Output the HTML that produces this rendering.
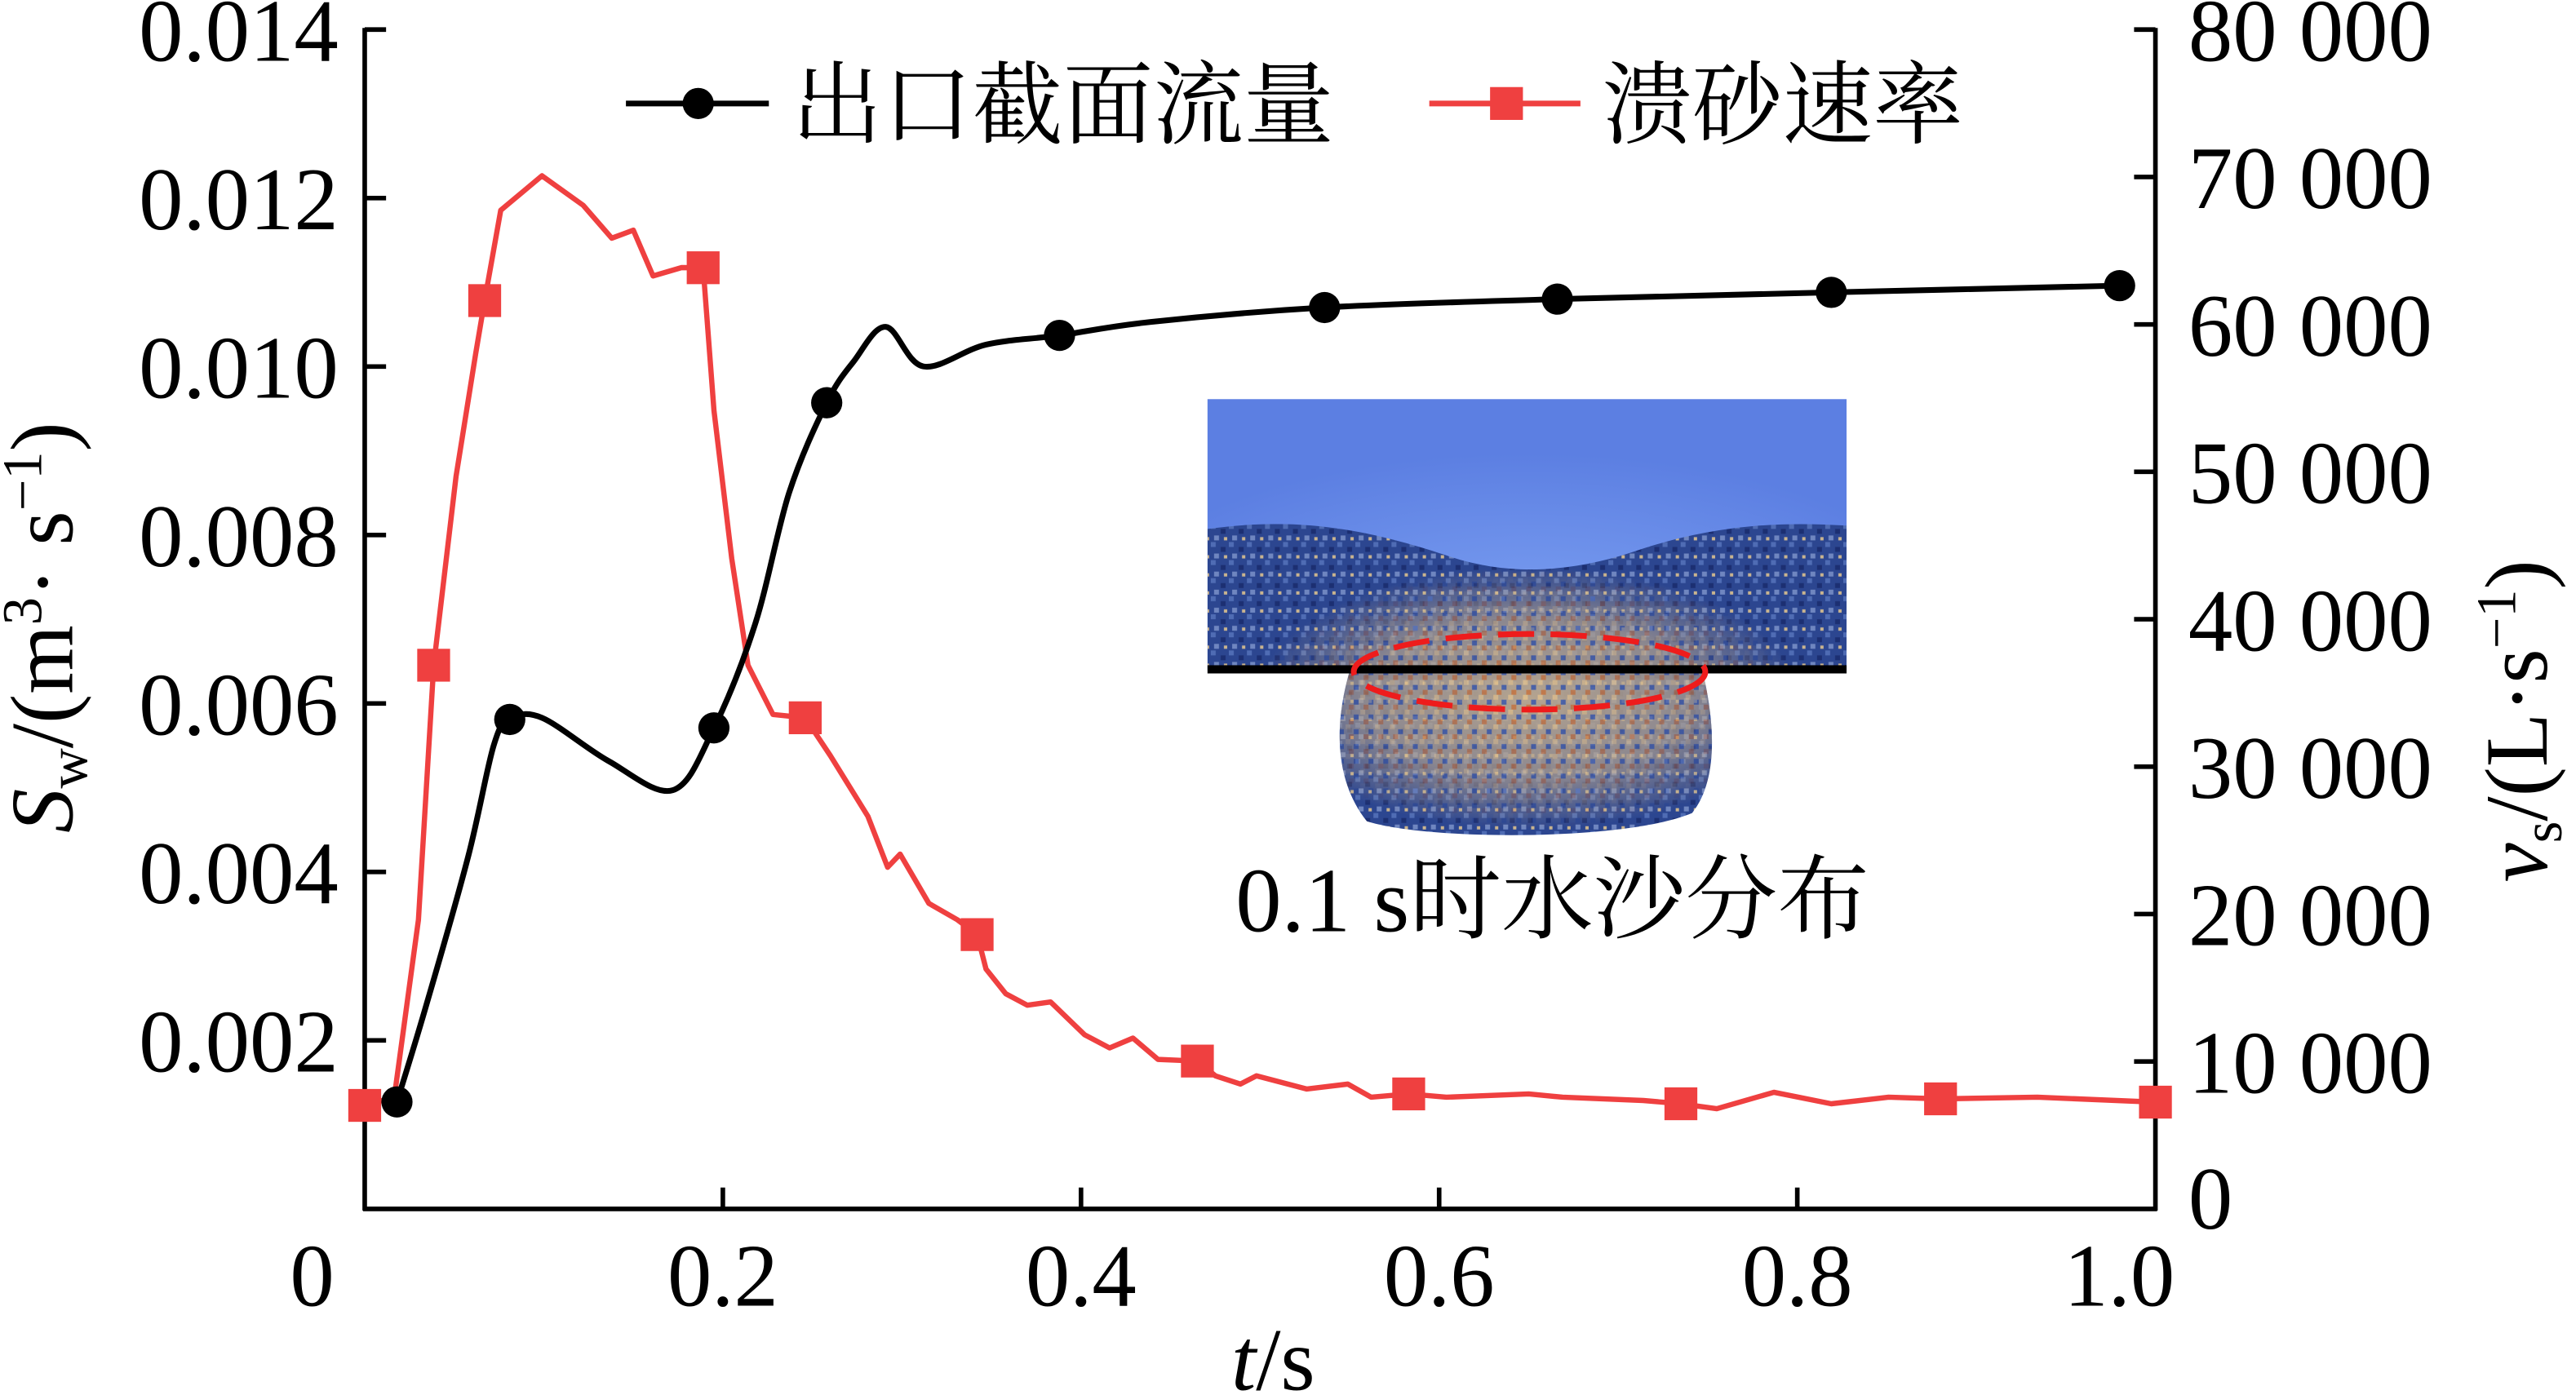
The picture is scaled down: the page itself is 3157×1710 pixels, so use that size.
<!DOCTYPE html>
<html><head><meta charset="utf-8"><style>
html,body{margin:0;padding:0;background:#fff;}
svg{display:block;}
text{font-family:"Liberation Serif","Noto Serif CJK SC","Noto Sans CJK SC",serif;fill:#000;}
</style></head><body>
<svg id="chart" width="3157" height="1710" viewBox="0 0 1568 849.3" xmlns="http://www.w3.org/2000/svg">
<defs>
<radialGradient id="water" cx="0.5" cy="0.9" r="0.7">
<stop offset="0" stop-color="#7fa3f3"/><stop offset="1" stop-color="#5c7fe2"/>
</radialGradient>
<pattern id="sand" width="11" height="11" patternUnits="userSpaceOnUse">
<rect width="11" height="11" fill="#2c4690"/>
<rect x="0" y="0" width="3" height="3" fill="#4f6cb4"/>
<rect x="6" y="3" width="3" height="3" fill="#1c2f72"/>
<rect x="2" y="7" width="3" height="3" fill="#6f86c0"/>
<rect x="8" y="8" width="2" height="2" fill="#c9b48f"/>
</pattern>
<pattern id="sandhot" width="9" height="9" patternUnits="userSpaceOnUse">
<rect width="9" height="9" fill="#b5a48f"/>
<rect x="0" y="0" width="3" height="3" fill="#dcbd8d"/>
<rect x="5" y="3" width="3" height="3" fill="#4c63a8"/>
<rect x="2" y="6" width="3" height="3" fill="#c77c4a"/>
</pattern>
<radialGradient id="hotfade" cx="0.5" cy="0.5" r="0.5">
<stop offset="0" stop-color="#fff" stop-opacity="1"/><stop offset="0.6" stop-color="#fff" stop-opacity="0.7"/><stop offset="1" stop-color="#fff" stop-opacity="0"/>
</radialGradient>
<mask id="hotmask"><ellipse cx="930" cy="425" rx="165" ry="80" fill="url(#hotfade)"/></mask>
<clipPath id="sandclip">
<path d="M735,322 C780,316 820,318 880,338 C920,352 960,348 1000,334 C1050,318 1090,318 1124,320 L1124,407 L1036,407 C1044,440 1046,475 1030,495 C990,512 870,512 832,500 C812,475 812,440 822,407 L735,407 Z"/>
</clipPath>
</defs>

<g id="inset">
<rect x="735" y="243" width="389" height="165" fill="url(#water)"/>
<g clip-path="url(#sandclip)">
<rect x="735" y="300" width="389" height="220" fill="url(#sand)"/>
<g mask="url(#hotmask)"><rect x="735" y="300" width="389" height="220" fill="url(#sandhot)"/></g>
</g>
<rect x="735" y="405" width="389" height="5" fill="#000"/>
<ellipse cx="931" cy="409" rx="107" ry="23" fill="none" stroke="#ee1c1c" stroke-width="3.5" stroke-dasharray="22 10"/>
<text x="945" y="567" font-size="56" text-anchor="middle">0.1 s时水沙分布</text>
</g>

<g id="axes" stroke="#000" stroke-width="2.8" fill="none">
<line x1="222" y1="17" x2="222" y2="737"/>
<line x1="1312" y1="17" x2="1312" y2="737"/>
<line x1="221" y1="736" x2="1313" y2="736"/>
</g>
<g id="ticks"></g>
<g id="series"></g>

<g id="legend">
<g>
<line x1="381" y1="63" x2="468" y2="63" stroke="#000" stroke-width="3.5"/>
<circle cx="425" cy="63" r="9.5" fill="#000"/>
<text x="482" y="83" font-size="55">出口截面流量</text>
</g>
<g>
<line x1="870" y1="63" x2="962" y2="63" stroke="#ef4040" stroke-width="3.5"/>
<rect x="907" y="53" width="20" height="20" fill="#ef4040"/>
<text x="975" y="83" font-size="55">溃砂速率</text>
</g>
</g>

<text x="775" y="846" font-size="54" text-anchor="middle"><tspan font-style="italic">t</tspan>/s</text>
<text transform="translate(44,382) rotate(-90)" font-size="54" text-anchor="middle"><tspan font-style="italic">S</tspan><tspan font-size="34" dy="9">w</tspan><tspan dy="-9">/(m</tspan><tspan font-size="34" dy="-19">3</tspan><tspan dy="19">· s</tspan><tspan font-size="34" dy="-19">−1</tspan><tspan dy="19">)</tspan></text>
<text transform="translate(1550,439) rotate(-90)" font-size="54" text-anchor="middle"><tspan font-style="italic">v</tspan><tspan font-size="34" dy="9">s</tspan><tspan dy="-9">/(L·s</tspan><tspan font-size="34" dy="-19">−1</tspan><tspan dy="19">)</tspan></text>

<script>
var xTicks = [0, 0.2, 0.4, 0.6, 0.8, 1.0];
var xTickLabels = ["0", "0.2", "0.4", "0.6", "0.8", "1.0"];
var leftTicks = [0.002, 0.004, 0.006, 0.008, 0.010, 0.012, 0.014];
var leftTickLabels = ["0.002", "0.004", "0.006", "0.008", "0.010", "0.012", "0.014"];
var rightTicks = [0, 10000, 20000, 30000, 40000, 50000, 60000, 70000, 80000];
var rightTickLabels = ["0", "10 000", "20 000", "30 000", "40 000", "50 000", "60 000", "70 000", "80 000"];

var flowT = [0.018, 0.035, 0.058, 0.072, 0.081, 0.099, 0.136, 0.172, 0.195, 0.218, 0.237, 0.258, 0.273, 0.291, 0.312, 0.347, 0.388, 0.439, 0.536, 0.666, 0.819, 0.98];
var flowV = [0.00127, 0.00246, 0.0042, 0.0055, 0.00581, 0.00583, 0.00532, 0.00497, 0.00571, 0.00694, 0.0085, 0.00957, 0.01006, 0.01047, 0.0100, 0.01026, 0.01037, 0.01053, 0.0107, 0.0108, 0.01088, 0.01096];
var flowMarkerT = [0.018, 0.081, 0.195, 0.258, 0.388, 0.536, 0.666, 0.819, 0.98];
var flowMarkerV = [0.00127, 0.00581, 0.00571, 0.00957, 0.01037, 0.0107, 0.0108, 0.01088, 0.01096];

var sandT = [0, 0.0165, 0.030, 0.0385, 0.051, 0.062, 0.067, 0.076, 0.099, 0.122, 0.138, 0.150, 0.161, 0.177, 0.189, 0.195, 0.205, 0.214, 0.228, 0.246, 0.26, 0.281, 0.292, 0.299, 0.315, 0.331, 0.342, 0.347, 0.358, 0.370, 0.383, 0.402, 0.416, 0.429, 0.443, 0.465, 0.475, 0.489, 0.498, 0.526, 0.549, 0.562, 0.583, 0.604, 0.650, 0.669, 0.714, 0.735, 0.755, 0.787, 0.819, 0.851, 0.880, 0.934, 1.0];
var sandV = [7020, 7577, 19610, 36880, 49690, 58050, 61615, 67740, 70080, 68080, 65850, 66400, 63290, 63850, 63844, 54150, 44120, 36880, 33540, 33315, 30750, 26630, 23170, 24070, 20720, 19610, 18607, 16270, 14600, 13820, 14040, 11810, 10920, 11590, 10140, 10028, 9025, 8470, 9025, 8130, 8470, 7580, 7800, 7580, 7800, 7580, 7350, 7131, 6800, 7910, 7130, 7580, 7465, 7580, 7242];
var sandMarkerT = [0, 0.0385, 0.067, 0.189, 0.246, 0.342, 0.465, 0.583, 0.735, 0.880, 1.0];
var sandMarkerV = [7020, 36880, 61615, 63844, 33315, 18607, 10028, 7800, 7131, 7465, 7242];

var X0 = 222, X1 = 1312, YB = 736, YT = 18;
function xs(t){ return X0 + (X1 - X0) * t; }
function yl(v){ return YB - (YB - YT) * v / 0.014; }
function yr(v){ return YB - (YB - YT) * v / 80000; }
var NS = "http://www.w3.org/2000/svg";
function mk(tag, attrs, parent){ var e = document.createElementNS(NS, tag); for (var k in attrs) e.setAttribute(k, attrs[k]); parent.appendChild(e); return e; }

var ticks = document.getElementById("ticks");
xTicks.forEach(function(t, i){
  var x = xs(t);
  if (i > 0 && i < xTicks.length - 1) {
    var l = mk("line", {x1: x, y1: YB, x2: x, y2: YB - 13, stroke: "#000", "stroke-width": 2.8}, ticks);
    
    
  }
  var lx = x;
  if (i === 0) lx = 190;
  if (i === xTicks.length - 1) lx = 1290;
  var tx = mk("text", {x: lx, y: 795, "font-size": 54, "text-anchor": "middle"}, ticks);
  
  
  tx.textContent = xTickLabels[i];
});
leftTicks.forEach(function(v, i){
  var y = yl(v);
  var l = mk("line", {x1: X0, y1: y, x2: X0 + 13, y2: y, stroke: "#000", "stroke-width": 2.8}, ticks);
  
  
  var tx = mk("text", {x: 206, y: y + 19, "font-size": 54, "text-anchor": "end"}, ticks);
  
  
  tx.textContent = leftTickLabels[i];
});
rightTicks.forEach(function(v, i){
  var y = yr(v);
  if (i > 0) {
    var l = mk("line", {x1: X1, y1: y, x2: X1 - 13, y2: y, stroke: "#000", "stroke-width": 2.8}, ticks);
    
    
  }
  var tx = mk("text", {x: 1332, y: (i === 0 ? y + 12 : y + 19), "font-size": 54, "text-anchor": "start"}, ticks);
  
  
  tx.textContent = rightTickLabels[i];
});

var series = document.getElementById("series");
var sandG = mk("g", {}, series);


var sp = sandT.map(function(t, i){ return xs(t).toFixed(1) + "," + yr(sandV[i]).toFixed(1); }).join(" ");
var sl = mk("polyline", {points: sp, fill: "none", stroke: "#ef4040", "stroke-width": 3.2, "stroke-linejoin": "round"}, sandG);


sandMarkerT.forEach(function(t, i){
  var r = mk("rect", {x: xs(t) - 10, y: yr(sandMarkerV[i]) - 10, width: 20, height: 20, fill: "#ef4040"}, sandG);
  
  
});

var flowG = mk("g", {}, series);


var pts = flowT.map(function(t, i){ return [xs(t), yl(flowV[i])]; });
var d = "M" + pts[0][0] + "," + pts[0][1];
for (var i = 0; i < pts.length - 1; i++) {
  var p0 = pts[Math.max(0, i - 1)], p1 = pts[i], p2 = pts[i + 1], p3 = pts[Math.min(pts.length - 1, i + 2)];
  var c1 = [p1[0] + (p2[0] - p0[0]) / 6, p1[1] + (p2[1] - p0[1]) / 6];
  var c2 = [p2[0] - (p3[0] - p1[0]) / 6, p2[1] - (p3[1] - p1[1]) / 6];
  d += " C" + c1[0].toFixed(1) + "," + c1[1].toFixed(1) + " " + c2[0].toFixed(1) + "," + c2[1].toFixed(1) + " " + p2[0].toFixed(1) + "," + p2[1].toFixed(1);
}
var fl = mk("path", {d: d, fill: "none", stroke: "#000", "stroke-width": 3.5}, flowG);


flowMarkerT.forEach(function(t, i){
  var c = mk("circle", {cx: xs(t), cy: yl(flowMarkerV[i]), r: 9.5, fill: "#000"}, flowG);
  
  
});
</script>
</svg>
</body></html>
